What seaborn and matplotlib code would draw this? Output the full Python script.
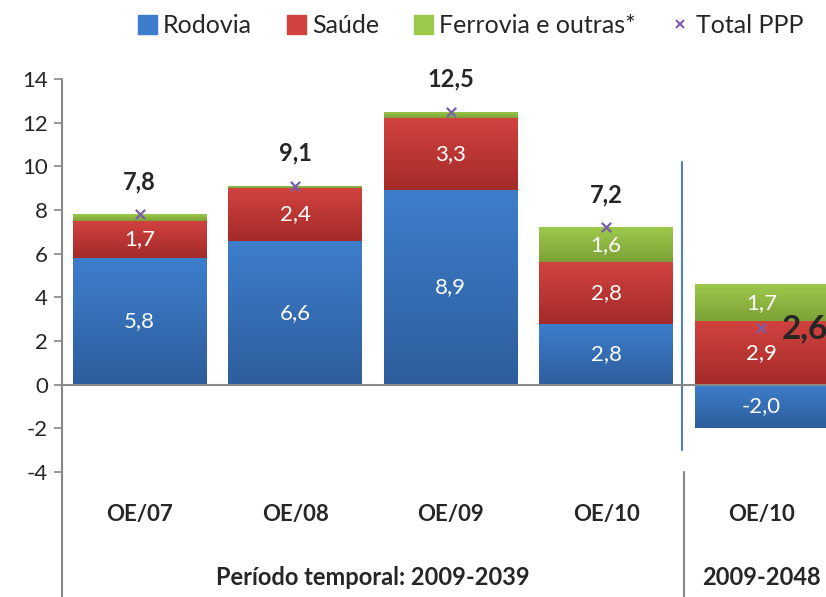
import numpy as np
import pandas as pd
import seaborn as sns
import matplotlib.pyplot as plt
from matplotlib.patches import Patch
from matplotlib.lines import Line2D
from matplotlib.colors import LinearSegmentedColormap

# values (mil milhoes de euros)
categorias = ["OE/07", "OE/08", "OE/09", "OE/10", "OE/10"]
periodos = ["Período temporal: 2009-2039", "2009-2048"]
rodovia = [5.8, 6.6, 8.9, 2.8, -2.0]
saude = [1.7, 2.4, 3.3, 2.8, 2.9]
ferrovia = [0.3, 0.1, 0.3, 1.6, 1.7]
total = [7.8, 9.1, 12.5, 7.2, 2.6]
# which segment labels are printed on the original
mostra_ferrovia = [False, False, False, True, True]

# (top, bottom) of the excel-style gradient
grad = {"rod": ("#3D7ECC", "#2E5D9C"),
        "sau": ("#D2423F", "#A32B29"),
        "fer": ("#9DC94B", "#7DA137")}
c_tot = "#7A5EA8"

sns.set_style("white")
plt.rcParams["font.family"] = ["Lato", "DejaVu Sans"]
plt.rcParams["axes.unicode_minus"] = False

df = pd.DataFrame({"id": [f"c{i}" for i in range(5)], "rodovia": rodovia,
                   "saude": saude, "ferrovia": ferrovia, "total": total})
base_sau = np.where(df.rodovia > 0, df.rodovia, 0)
base_fer = base_sau + df.saude

fig = plt.figure(figsize=(8.26, 5.97), dpi=100)
ax = fig.add_axes([0.075, 0.2094, 0.941, 0.6583])

w = 0.86
kw = dict(width=w, saturation=1, ax=ax, linewidth=0, edgecolor="none")
sns.barplot(data=df, x="id", y="rodovia", color=grad["rod"][0], **kw)
n1 = len(ax.patches)
sns.barplot(data=df, x="id", y="saude", color=grad["sau"][0], bottom=base_sau, **kw)
n2 = len(ax.patches)
sns.barplot(data=df, x="id", y="ferrovia", color=grad["fer"][0], bottom=base_fer, **kw)

# vertical gradient on each segment
for j, p in enumerate(ax.patches):
    key = "rod" if j < n1 else ("sau" if j < n2 else "fer")
    cmap = LinearSegmentedColormap.from_list(key, [grad[key][1], grad[key][0]])
    x0, y0 = p.get_x(), p.get_y()
    x1, y1 = x0 + p.get_width(), y0 + p.get_height()
    lo, hi = min(y0, y1), max(y0, y1)
    img = ax.imshow(np.linspace(0, 1, 64).reshape(-1, 1), cmap=cmap, origin="lower",
                    extent=(x0, x1, lo, hi), aspect="auto", zorder=p.get_zorder())
    img.set_clip_path(p)

sns.scatterplot(x=np.arange(5), y=df.total, marker="x", color=c_tot, s=45,
                linewidth=1.6, ax=ax, zorder=6)

ax.set_xlim(-0.5, 4.5)
ax.set_ylim(-4, 14)
ax.set_yticks(range(-4, 15, 2))
ax.set_xticks([])
ax.set_xlabel("")
ax.set_ylabel("")
for s in ax.spines.values():
    s.set_visible(False)
ax.tick_params(axis="y", left=True, length=6, width=1.2, color="#888888",
               labelsize=16, pad=4)
ax.axhline(0, color="#888888", lw=1.5, zorder=4)

def fmt(v):
    return f"{v:.1f}".replace(".", ",")

# segment labels
for i in range(5):
    ax.text(i, rodovia[i] / 2, fmt(rodovia[i]), color="white", ha="center",
            va="center", fontsize=16, zorder=5)
    ax.text(i, base_sau[i] + saude[i] / 2, fmt(saude[i]), color="white",
            ha="center", va="center", fontsize=16, zorder=5)
    if mostra_ferrovia[i]:
        ax.text(i, base_fer[i] + ferrovia[i] / 2, fmt(ferrovia[i]), color="white",
                ha="center", va="center", fontsize=16, zorder=5)

# totals
for i in range(4):
    ax.text(i, total[i] + 1.5, fmt(total[i]), ha="center", va="center",
            fontsize=17, fontweight="bold")
ax.text(4.13, total[4] - 0.05, fmt(total[4]), ha="left", va="center",
        fontsize=24, fontweight="bold", zorder=7)

# category axis (two levels)
ax.plot([-0.5, -0.5], [14, -9.9], color="#888888", lw=1.5, clip_on=False)
ax.plot([3.5, 3.5], [-4, -9.9], color="#888888", lw=1.5, clip_on=False)
ax.plot([3.49, 3.49], [10.2, -3.0], color="#4F81BD", lw=1.5)
for i, c in enumerate(categorias):
    ax.text(i, -5.95, c, ha="center", va="center", fontsize=16, fontweight="bold",
            clip_on=False)
ax.text(1.5, -8.85, periodos[0], ha="center", va="center", fontsize=17,
        fontweight="bold", clip_on=False)
ax.text(4, -8.85, periodos[1], ha="center", va="center", fontsize=17,
        fontweight="bold", clip_on=False)

handles = [Patch(color=grad["rod"][0], label="Rodovia"),
           Patch(color=grad["sau"][0], label="Saúde"),
           Patch(color=grad["fer"][0], label="Ferrovia e outras*"),
           Line2D([], [], ls="", marker="x", color=c_tot, markersize=6,
                  markeredgewidth=1.5, label="Total PPP")]
fig.legend(handles=handles, loc="center", bbox_to_anchor=(0.57, 0.957), ncol=4,
           frameon=False, fontsize=18, handlelength=0.75, handleheight=0.75,
           handletextpad=0.25, columnspacing=1.4)

fig.savefig("out.png", dpi=100)
